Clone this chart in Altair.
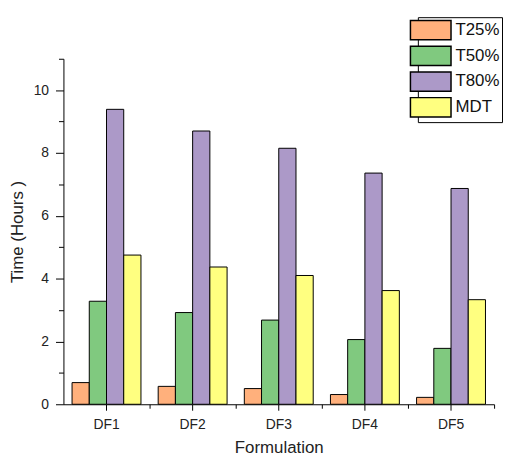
import altair as alt
import pandas as pd

formulations = ["DF1", "DF2", "DF3", "DF4", "DF5"]
series = ["T25%", "T50%", "T80%", "MDT"]
t25 = [0.69, 0.57, 0.50, 0.31, 0.22]
t50 = [3.28, 2.92, 2.68, 2.06, 1.78]
t80 = [9.39, 8.70, 8.15, 7.36, 6.87]
mdt = [4.75, 4.37, 4.10, 3.62, 3.33]
colors = ["#FFB07C", "#80C97F", "#AC99C8", "#FFFF80"]
major_y = [0, 2, 4, 6, 8, 10]
minor_y = [1, 3, 5, 7, 9, 11]

rows = []
for s, vals in zip(series, [t25, t50, t80, mdt]):
    for f, v in zip(formulations, vals):
        rows.append({"Formulation": f, "Series": s, "Time": v})
df = pd.DataFrame(rows)

font = "Liberation Sans"
xscale = alt.Scale(domain=formulations, paddingInner=0, paddingOuter=0)
yscale = alt.Scale(domain=[0, 11], nice=False, zero=True)

bars = alt.Chart(df).mark_bar(stroke="black", strokeWidth=1).encode(
    x=alt.X("Formulation:N", scale=xscale,
            axis=alt.Axis(title="Formulation", labelAngle=0, tickSize=6,
                          labelPadding=7, labelFontSize=14, titleFontSize=17,
                          titlePadding=9, grid=False)),
    xOffset=alt.XOffset("Series:N", sort=series,
                        scale=alt.Scale(domain=series, paddingInner=0, paddingOuter=0.5)),
    y=alt.Y("Time:Q", scale=yscale, stack=None,
            axis=alt.Axis(title="Time (Hours )", values=major_y, tickSize=8,
                          labelPadding=7, labelFontSize=14, titleFontSize=17,
                          titlePadding=7, grid=False)),
    color=alt.Color("Series:N", sort=series,
                    scale=alt.Scale(domain=series, range=colors),
                    legend=alt.Legend(orient="none", legendX=358, legendY=-42,
                                      title=None, symbolType="M-2,-0.95H2V0.95H-2Z",
                                      symbolSize=420, symbolStrokeColor="black",
                                      symbolStrokeWidth=1.5, symbolOpacity=1,
                                      labelFontSize=17, labelOffset=14,
                                      labelFont=font, labelColor="#111",
                                      rowPadding=0, padding=2,
                                      strokeColor="black", fillColor="white")),
)

minor = alt.Chart(df).mark_bar(opacity=0).encode(
    x=alt.X("Formulation:N", scale=xscale,
            axis=alt.Axis(orient="bottom", bandPosition=1, labels=False,
                          domain=False, tickSize=4, title=None, grid=False)),
    y=alt.Y("Time:Q", scale=yscale, stack=None,
            axis=alt.Axis(orient="left", values=minor_y, labels=False,
                          domain=False, tickSize=5, title=None, grid=False)),
)

chart = alt.layer(bars, minor).resolve_axis(
    x="independent", y="independent"
).properties(
    width=435, height=349,
    padding={"left": 0, "top": 6, "right": 0, "bottom": 0},
).configure_view(stroke=None).configure_axis(
    labelFont=font, titleFont=font, labelColor="#222", titleColor="#222",
    domainColor="black", tickColor="black", titleFontWeight="normal",
    domainWidth=1, tickWidth=1,
)

chart.save("out.html", embed_options={"renderer": "svg", "actions": False})
